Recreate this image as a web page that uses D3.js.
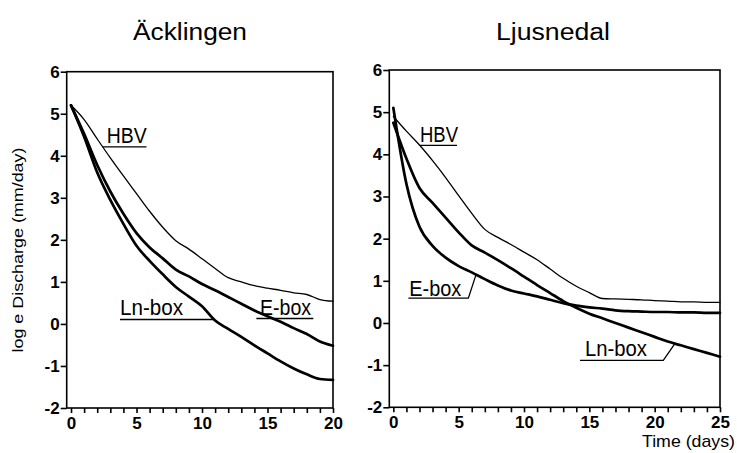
<!DOCTYPE html>
<html>
<head>
<meta charset="utf-8">
<script src="https://cdn.jsdelivr.net/npm/d3@7"></script>
<style>
  html, body { margin: 0; padding: 0; background: #fff; }
  svg { display: block; }
  text { font-family: "Liberation Sans", Arial, Helvetica, sans-serif; fill: #000; }
</style>
</head>
<body>
<svg id="chart" width="737" height="453"></svg>
<script>
// ---- data ----
const daysA = d3.range(0, 21);          // Äcklingen: 0..20 days
const daysL = d3.range(0, 26);          // Ljusnedal: 0..25 days
const yTicks = [-2, -1, 0, 1, 2, 3, 4, 5, 6];

const titles = ["Äcklingen", "Ljusnedal"];
const seriesNames = ["HBV", "E-box", "Ln-box"];

const hbvA  = [5.2, 4.86, 4.4, 3.95, 3.52, 3.1, 2.68, 2.3, 1.98, 1.78, 1.55, 1.32, 1.1, 1.0, 0.91, 0.85, 0.8, 0.74, 0.7, 0.58, 0.54];
const eboxA = [5.2, 4.52, 3.78, 3.15, 2.62, 2.16, 1.82, 1.56, 1.29, 1.13, 0.95, 0.8, 0.64, 0.48, 0.32, 0.18, 0.05, -0.1, -0.24, -0.42, -0.52];
const lnboxA = [5.2, 4.45, 3.6, 2.95, 2.38, 1.86, 1.5, 1.18, 0.88, 0.65, 0.42, 0.08, -0.12, -0.31, -0.51, -0.7, -0.89, -1.06, -1.2, -1.31, -1.33];

const hbvL  = [4.9, 4.55, 4.22, 3.85, 3.45, 3.02, 2.6, 2.22, 2.03, 1.86, 1.68, 1.5, 1.28, 1.06, 0.87, 0.72, 0.58, 0.57, 0.56, 0.55, 0.53, 0.52, 0.5, 0.5, 0.49, 0.49];
const eboxL = [5.1, 3.3, 2.28, 1.83, 1.55, 1.35, 1.2, 1.04, 0.89, 0.77, 0.7, 0.63, 0.55, 0.47, 0.41, 0.37, 0.34, 0.3, 0.28, 0.27, 0.26, 0.26, 0.25, 0.25, 0.24, 0.24];
const lnboxL = [4.75, 3.9, 3.2, 2.85, 2.5, 2.15, 1.84, 1.67, 1.49, 1.3, 1.1, 0.9, 0.71, 0.52, 0.36, 0.22, 0.11, 0.0, -0.11, -0.22, -0.33, -0.44, -0.53, -0.62, -0.71, -0.8];

// ---- layout ----
const svg = d3.select("#chart");

const panels = [
  { title: titles[0], days: daysA, xMax: 20, xMin: -0.33,
    left: 66.7, right: 333, top: 71.7, bottom: 408, titleX: 190,
    series: [hbvA, eboxA, lnboxA],
    labels: [
      { name: "HBV",    s: 0, tx: 2.73, ty: 4.30, w: 40, uy: 4.21, ux1: 5.76, fromCurveLeft: true },
      { name: "Ln-box", s: 2, tx: 3.74, ty: 0.207, w: 63, uy: 0.105, ux0: 3.74, toCurveRight: true },
      { name: "E-box",  s: 1, tx: 14.43, ty: 0.207, w: 51, uy: 0.129, ux0: 14.15, ux1: 18.5 }
    ] },
  { title: titles[1], days: daysL, xMax: 25, xMin: -0.31,
    left: 389.3, right: 720, top: 70, bottom: 407.3, titleX: 553,
    series: [hbvL, eboxL, lnboxL],
    labels: [
      { name: "HBV",    s: 0, tx: 2.04, ty: 4.30, w: 38, uy: 4.21, ux1: 4.87, fromCurveLeft: true },
      { name: "E-box",  s: 1, tx: 1.22, ty: 0.647, w: 52, uy: 0.59, ux0: 1.15, ux1: 5.74, leadTo: 6.33 },
      { name: "Ln-box", s: 2, tx: 14.67, ty: -0.79, w: 62, uy: -0.886, ux0: 14.28, ux1: 20.66, leadTo: 21.55 }
    ] }
];

function interp(days, vals, x) {
  const i = Math.max(0, Math.min(days.length - 2, Math.floor(x - days[0])));
  const t = x - days[i];
  return vals[i] + (vals[i + 1] - vals[i]) * t;
}
function solveX(days, vals, yv, lo, hi) {
  for (let k = 0; k < 60; k++) {
    const mid = (lo + hi) / 2;
    if (interp(days, vals, mid) > yv) lo = mid; else hi = mid;
  }
  return (lo + hi) / 2;
}

panels.forEach((p, pi) => {
  const x = d3.scaleLinear().domain([p.xMin, p.xMax]).range([p.left, p.right]);
  const y = d3.scaleLinear().domain([-2, 6]).range([p.bottom, p.top]);
  const g = svg.append("g");

  // title
  g.append("text")
    .attr("x", p.titleX).attr("y", 40)
    .attr("text-anchor", "middle")
    .attr("font-size", 23)
    .attr("textLength", 114).attr("lengthAdjust", "spacingAndGlyphs")
    .text(p.title);

  // x axis
  const xAxis = d3.axisBottom(x)
    .tickValues(p.days)
    .tickFormat(d => d % 5 === 0 ? String(d) : "")
    .tickSize(5).tickSizeOuter(0).tickPadding(4);
  const gx = g.append("g").attr("transform", `translate(0,${p.bottom})`).call(xAxis);
  gx.select(".domain").remove();
  gx.selectAll(".tick line").attr("stroke", "#000").attr("stroke-width", 1.6);
  gx.selectAll(".tick text").attr("font-size", 17).attr("font-weight", "bold")
    .attr("font-family", "Liberation Sans, Arial, sans-serif").attr("fill", "#000");

  // y axis
  const yAxis = d3.axisLeft(y).tickValues(yTicks).tickFormat(d => String(d))
    .tickSize(6).tickSizeOuter(0).tickPadding(1);
  const gy = g.append("g").attr("transform", `translate(${p.left},0)`).call(yAxis);
  gy.select(".domain").remove();
  gy.selectAll(".tick line").attr("stroke", "#000").attr("stroke-width", 1.6);
  gy.selectAll(".tick text").attr("font-size", 17).attr("font-weight", "bold")
    .attr("font-family", "Liberation Sans, Arial, sans-serif").attr("fill", "#000");

  // frame
  g.append("rect")
    .attr("x", p.left).attr("y", p.top)
    .attr("width", p.right - p.left).attr("height", p.bottom - p.top)
    .attr("fill", "none").attr("stroke", "#000").attr("stroke-width", 1.6);

  // curves
  const line = d3.line().x((d, i) => x(p.days[i])).y(d => y(d)).curve(d3.curveMonotoneX);
  p.series.forEach((vals, si) => {
    g.append("path")
      .datum(vals)
      .attr("d", line)
      .attr("fill", "none")
      .attr("stroke", "#000")
      .attr("stroke-width", si === 0 ? 1.3 : 2.7)
      .attr("stroke-linejoin", "round")
      .attr("stroke-linecap", "round");
  });

  // labels with leader lines
  p.labels.forEach(l => {
    const vals = p.series[l.s];
    g.append("text")
      .attr("x", x(l.tx)).attr("y", y(l.ty))
      .attr("font-size", 22)
      .attr("textLength", l.w).attr("lengthAdjust", "spacingAndGlyphs")
      .text(l.name);
    let pts;
    if (l.fromCurveLeft) {
      const cx = solveX(p.days, vals, l.uy, 0, p.xMax);
      pts = [[cx, l.uy], [l.ux1, l.uy]];
    } else if (l.toCurveRight) {
      const cx = solveX(p.days, vals, l.uy, 0, p.xMax);
      pts = [[l.ux0, l.uy], [cx, l.uy]];
    } else if (l.leadTo !== undefined) {
      pts = [[l.ux0, l.uy], [l.ux1, l.uy], [l.leadTo, interp(p.days, vals, l.leadTo)]];
    } else {
      pts = [[l.ux0, l.uy], [l.ux1, l.uy]];
    }
    g.append("path")
      .attr("d", d3.line().x(d => x(d[0])).y(d => y(d[1]))(pts))
      .attr("fill", "none").attr("stroke", "#000").attr("stroke-width", 1.3);
  });
});

// y axis title
svg.append("text")
  .attr("transform", "translate(22.5,250) rotate(-90)")
  .attr("text-anchor", "middle")
  .attr("font-size", 14.5)
  .attr("textLength", 205).attr("lengthAdjust", "spacingAndGlyphs")
  .text("log e Discharge (mm/day)");

// x axis title (right panel)
svg.append("text")
  .attr("x", 735).attr("y", 447)
  .attr("text-anchor", "end")
  .attr("font-size", 17)
  .attr("textLength", 93).attr("lengthAdjust", "spacingAndGlyphs")
  .text("Time (days)");
</script>
</body>
</html>
